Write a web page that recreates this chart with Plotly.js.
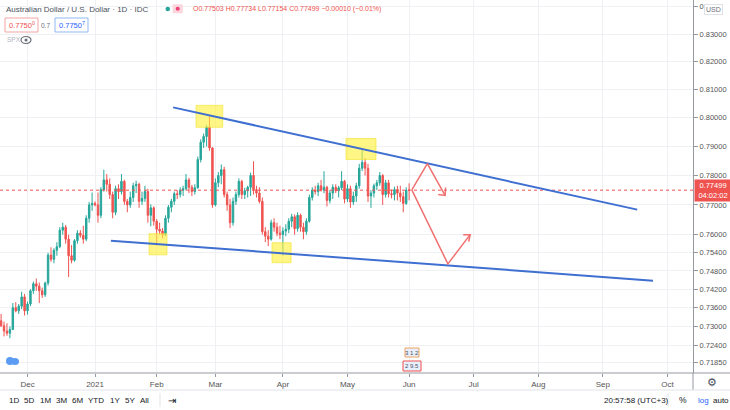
<!DOCTYPE html>
<html><head><meta charset="utf-8">
<script src="https://cdn.plot.ly/plotly-3.0.1.min.js"></script>
<style>html,body{margin:0;padding:0;background:#fff}#chart{width:730px;height:410px}</style>
</head><body><div id="chart"></div>
<script>
// ---- candle data (AUD/USD daily, IDC) ----
const dates = [
'2020-11-18','2020-11-19','2020-11-20','2020-11-23','2020-11-24','2020-11-25','2020-11-26','2020-11-27','2020-11-30',
'2020-12-01','2020-12-02','2020-12-03','2020-12-04','2020-12-07','2020-12-08','2020-12-09','2020-12-10','2020-12-11','2020-12-14','2020-12-15','2020-12-16','2020-12-17','2020-12-18','2020-12-21','2020-12-22','2020-12-23','2020-12-24','2020-12-25','2020-12-28','2020-12-29','2020-12-30','2020-12-31',
'2021-01-01','2021-01-04','2021-01-05','2021-01-06','2021-01-07','2021-01-08','2021-01-11','2021-01-12','2021-01-13','2021-01-14','2021-01-15','2021-01-18','2021-01-19','2021-01-20','2021-01-21','2021-01-22','2021-01-25','2021-01-26','2021-01-27','2021-01-28','2021-01-29',
'2021-02-01','2021-02-02','2021-02-03','2021-02-04','2021-02-05','2021-02-08','2021-02-09','2021-02-10','2021-02-11','2021-02-12','2021-02-15','2021-02-16','2021-02-17','2021-02-18','2021-02-19','2021-02-22','2021-02-23','2021-02-24','2021-02-25','2021-02-26',
'2021-03-01','2021-03-02','2021-03-03','2021-03-04','2021-03-05','2021-03-08','2021-03-09','2021-03-10','2021-03-11','2021-03-12','2021-03-15','2021-03-16','2021-03-17','2021-03-18','2021-03-19','2021-03-22','2021-03-23','2021-03-24','2021-03-25','2021-03-26','2021-03-29','2021-03-30','2021-03-31',
'2021-04-01','2021-04-02','2021-04-05','2021-04-06','2021-04-07','2021-04-08','2021-04-09','2021-04-12','2021-04-13','2021-04-14','2021-04-15','2021-04-16','2021-04-19','2021-04-20','2021-04-21','2021-04-22','2021-04-23','2021-04-26','2021-04-27','2021-04-28','2021-04-29','2021-04-30',
'2021-05-03','2021-05-04','2021-05-05','2021-05-06','2021-05-07','2021-05-10','2021-05-11','2021-05-12','2021-05-13','2021-05-14','2021-05-17','2021-05-18','2021-05-19','2021-05-20','2021-05-21','2021-05-24','2021-05-25','2021-05-26','2021-05-27','2021-05-28','2021-05-31',
'2021-06-01'];
const open = [
.7318,.7302,.7285,.7278,.7290,.7360,.7350,.7365,.7395,
.7350,.7372,.7415,.7438,.7430,.7415,.7402,.7440,.7532,.7518,.7548,.7560,.7615,.7625,.7585,.7530,.7515,.7580,.7605,.7598,.7585,.7655,.7700,
.7705,.7700,.7665,.7752,.7785,.7770,.7735,.7675,.7755,.7745,.7780,.7712,.7700,.7725,.7765,.7770,.7712,.7722,.7745,.7665,.7690,
.7645,.7618,.7612,.7600,.7655,.7692,.7712,.7738,.7735,.7750,.7755,.7785,.7760,.7745,.7758,.7855,.7915,.7935,.7968,.7895,
.7700,.7775,.7800,.7820,.7735,.7700,.7640,.7712,.7735,.7780,.7735,.7748,.7760,.7800,.7752,.7740,.7712,.7610,.7595,.7585,.7640,.7625,.7605,
.7600,.7612,.7618,.7645,.7660,.7620,.7665,.7625,.7610,.7645,.7725,.7750,.7745,.7765,.7750,.7760,.7715,.7740,.7760,.7748,.7758,.7780,
.7720,.7755,.7710,.7730,.7765,.7825,.7845,.7825,.7730,.7740,.7765,.7775,.7800,.7735,.7775,.7738,.7735,.7752,.7740,.7728,.7705,
.77503];
const high = [
.7340,.7315,.7310,.7300,.7375,.7378,.7372,.7412,.7405,
.7380,.7420,.7445,.7455,.7442,.7425,.7445,.7540,.7558,.7555,.7575,.7625,.7640,.7632,.7600,.7565,.7585,.7615,.7615,.7630,.7665,.7710,.7742,
.7712,.7742,.7760,.7820,.7805,.7790,.7745,.7765,.7770,.7805,.7785,.7720,.7745,.7775,.7782,.7775,.7745,.7765,.7755,.7702,.7695,
.7652,.7640,.7622,.7665,.7700,.7720,.7745,.7750,.7760,.7765,.7805,.7792,.7768,.7770,.7865,.7925,.7945,.7975,.8007,.7898,
.7790,.7812,.7838,.7830,.7745,.7720,.7725,.7745,.7790,.7785,.7758,.7765,.7810,.7849,.7765,.7760,.7725,.7625,.7615,.7650,.7655,.7640,.7630,
.7625,.7635,.7655,.7670,.7668,.7675,.7670,.7640,.7655,.7735,.7760,.7765,.7775,.7785,.7815,.7765,.7750,.7770,.7770,.7765,.7815,.7785,
.7770,.7765,.7745,.7775,.7840,.7891,.7860,.7840,.7750,.7772,.7785,.7812,.7805,.7785,.7785,.7752,.7762,.7765,.7765,.7745,.7760,
.77734];
const low = [
.7298,.7268,.7270,.7262,.7288,.7345,.7340,.7355,.7335,
.7338,.7365,.7405,.7415,.7375,.7392,.7395,.7432,.7510,.7505,.7530,.7555,.7600,.7570,.7460,.7505,.7510,.7570,.7590,.7570,.7578,.7640,.7680,
.7695,.7640,.7655,.7745,.7745,.7720,.7655,.7665,.7720,.7735,.7700,.7675,.7690,.7710,.7740,.7690,.7700,.7710,.7640,.7628,.7630,
.7564,.7600,.7588,.7595,.7640,.7675,.7700,.7720,.7725,.7730,.7750,.7740,.7730,.7735,.7755,.7845,.7895,.7900,.7885,.7690,
.7695,.7760,.7770,.7725,.7680,.7622,.7630,.7700,.7725,.7720,.7720,.7725,.7730,.7735,.7725,.7705,.7600,.7575,.7562,.7580,.7610,.7595,.7585,
.7531,.7595,.7605,.7625,.7600,.7610,.7610,.7585,.7600,.7640,.7715,.7735,.7730,.7745,.7740,.7695,.7705,.7720,.7740,.7725,.7750,.7705,
.7710,.7690,.7700,.7710,.7755,.7815,.7800,.7710,.7690,.7725,.7750,.7765,.7700,.7725,.7725,.7722,.7715,.7715,.7710,.7675,.7700,
.77154];
const close = [
.7302,.7285,.7278,.7290,.7360,.7350,.7365,.7395,.7350,
.7372,.7415,.7438,.7430,.7415,.7402,.7440,.7532,.7518,.7548,.7560,.7615,.7625,.7585,.7530,.7515,.7580,.7605,.7598,.7585,.7655,.7700,.7705,
.7700,.7665,.7752,.7785,.7770,.7735,.7675,.7755,.7745,.7780,.7712,.7700,.7725,.7765,.7770,.7712,.7722,.7745,.7665,.7690,.7645,
.7618,.7612,.7600,.7655,.7692,.7712,.7738,.7735,.7750,.7755,.7785,.7760,.7745,.7758,.7855,.7915,.7935,.7968,.7895,.7700,
.7775,.7800,.7820,.7735,.7700,.7640,.7712,.7735,.7780,.7735,.7748,.7760,.7800,.7752,.7740,.7712,.7610,.7595,.7585,.7640,.7625,.7605,.7600,
.7612,.7618,.7645,.7660,.7620,.7665,.7625,.7610,.7645,.7725,.7750,.7745,.7765,.7750,.7760,.7715,.7740,.7760,.7748,.7758,.7780,.7720,
.7755,.7710,.7730,.7765,.7825,.7845,.7825,.7730,.7740,.7765,.7775,.7800,.7735,.7775,.7738,.7735,.7752,.7740,.7728,.7705,.7750,
.77499];

// ---- axes ----
const monthTicks = ['2020-12-01','2021-01-01','2021-02-01','2021-03-01','2021-04-01','2021-05-03','2021-06-01','2021-07-01','2021-08-02','2021-09-01','2021-10-01'];
const monthLabels = ['Dec','2021','Feb','Mar','Apr','May','Jun','Jul','Aug','Sep','Oct'];
const priceTicks = [0.84,0.83,0.82,0.81,0.80,0.79,0.78,0.77,0.76,0.754,0.748,0.742,0.736,0.730,0.724,0.7185];
const priceTickText = ['0.','0.83000','0.82000','0.81000','0.80000','0.79000','0.78000','0.77000','0.76000','0.75400','0.74800','0.74200','0.73600','0.73000','0.72400','0.71850'];
const xRange = ['2020-11-17 15:00','2021-10-13 17:00'];
const yRange = [0.7152, 0.8425];
const lastPrice = 0.77499;

// ---- drawings (trend lines, zones, arrows) ----
const upperLineX = ['2021-02-08 14:00','2021-09-16 17:00'];
const upperLineY = [0.8037, 0.7684];
const lowerLineX = ['2021-01-08 10:00','2021-09-24 02:00'];
const lowerLineY = [0.7580, 0.7448];
const boxStart = ['2021-02-18 10:00','2021-04-30 12:00','2021-01-27 10:00','2021-03-26 07:00'];
const boxEnd   = ['2021-03-03 12:00','2021-05-14 17:00','2021-02-04 12:00','2021-04-05 19:00'];
const boxTop   = [0.8044, 0.7928, 0.7603, 0.7573];
const boxBottom= [0.7967, 0.7855, 0.7533, 0.7507];
const arrowUpX = ['2021-06-01 22:00','2021-06-09 05:00','2021-06-17 06:00'];
const arrowUpY = [0.7751, 0.7841, 0.7732];
const arrowUpHeadX = ['2021-06-14 22:00','2021-06-17 06:00','2021-06-17 10:00'];
const arrowUpHeadY = [0.7735, 0.7732, 0.7759];
const arrowDownX = ['2021-06-01 22:00','2021-06-18 05:00','2021-06-29 19:00'];
const arrowDownY = [0.7751, 0.7503, 0.7600];
const arrowDownHeadX = ['2021-06-25 10:00','2021-06-29 19:00','2021-06-29 07:00'];
const arrowDownHeadY = [0.7600, 0.7600, 0.7577];

// ---- traces ----
const traces = [];
traces.push({
  type:'candlestick', x:dates, open:open, high:high, low:low, close:close,
  increasing:{line:{color:'#26a69a',width:1}, fillcolor:'#26a69a'},
  decreasing:{line:{color:'#ef5350',width:1}, fillcolor:'#ef5350'},
  whiskerwidth:0, hoverinfo:'skip', showlegend:false
});
traces.push({type:'scatter', mode:'lines', x:xRange, y:[lastPrice,lastPrice],
  line:{color:'#ef5350', width:1, dash:'dot'}, hoverinfo:'skip'});
for (let i=0;i<boxStart.length;i++){
  traces.push({type:'scatter', mode:'lines', fill:'toself',
    x:[boxStart[i],boxEnd[i],boxEnd[i],boxStart[i],boxStart[i]],
    y:[boxTop[i],boxTop[i],boxBottom[i],boxBottom[i],boxTop[i]],
    fillcolor:'rgba(255,241,60,0.62)', line:{color:'rgba(245,230,60,0.7)',width:1}, hoverinfo:'skip'});
}
traces.push({type:'scatter', mode:'lines', x:upperLineX, y:upperLineY, line:{color:'#3f6fd0',width:2}, hoverinfo:'skip'});
traces.push({type:'scatter', mode:'lines', x:lowerLineX, y:lowerLineY, line:{color:'#3f6fd0',width:2}, hoverinfo:'skip'});
traces.push({type:'scatter', mode:'lines', x:arrowUpX, y:arrowUpY, line:{color:'#f07070',width:1.5}, hoverinfo:'skip'});
traces.push({type:'scatter', mode:'lines', x:arrowUpHeadX, y:arrowUpHeadY, line:{color:'#f07070',width:1.5}, hoverinfo:'skip'});
traces.push({type:'scatter', mode:'lines', x:arrowDownX, y:arrowDownY, line:{color:'#f07070',width:1.5}, hoverinfo:'skip'});
traces.push({type:'scatter', mode:'lines', x:arrowDownHeadX, y:arrowDownHeadY, line:{color:'#f07070',width:1.5}, hoverinfo:'skip'});

// ---- layout helpers (pixel -> paper) ----
const PW = 693, PH = 373;
const px = x => x/PW;
const py = y => 1 - y/PH;
const FONT = 'Liberation Sans, Arial, sans-serif';

const annotations = [];
function txt(x,y,text,size,color,anchor,extra){
  annotations.push(Object.assign({xref:'paper',yref:'paper',x:px(x),y:py(y),text:text,showarrow:false,
    xanchor:anchor||'left',yanchor:'middle',font:{family:FONT,size:size,color:color}},extra||{}));
}
txt(4,9,'Australian Dollar / U.S. Dollar · 1D · IDC',8,'#4c525e');
txt(191,9,'O0.77503 H0.77734 L0.77154 C0.77499 −0.00010 (−0.01%)',7,'#ef5350');
txt(21.5,25,'0.7750<sup>0</sup>',7.5,'#ef5350','center');
txt(45.5,25,'0.7',6.5,'#6a6d78','center');
txt(71.5,25,'0.7750<sup>7</sup>',7.5,'#2962ff','center');
txt(5,40,'SPX',6.5,'#b2b5be');
// price axis label
annotations.push({xref:'paper',yref:'y',x:1,y:Math.log10(lastPrice),xanchor:'left',yanchor:'middle',xshift:1,
  text:'0.77499<br>04:02:02',showarrow:false,bgcolor:'#ef5350',width:34,height:19,align:'center',
  font:{family:FONT,size:7.5,color:'#ffffff'}});
// USD badge
annotations.push({xref:'paper',yref:'paper',x:px(713.5),y:py(9),text:'USD',showarrow:false,xanchor:'center',yanchor:'middle',
  bgcolor:'#ffffff',bordercolor:'#dfe1e6',borderwidth:1,borderpad:1,font:{family:FONT,size:7,color:'#6a6d78'}});
// bottom toolbar
const toolLabels = ['1D','5D','1M','3M','6M','YTD','1Y','5Y','All'];
const toolX = [7,22,38,54,70,86,108,123,138];
toolLabels.forEach((t,i)=>txt(toolX[i],400,t,8,'#131722'));
txt(172,400,'⇥',10,'#131722','center');
txt(602,400,'20:57:58 (UTC+3)',8,'#131722');
txt(683,400,'%',8.5,'#131722','center');
txt(703,400,'log',8,'#2962ff','center');
txt(721,400,'auto',8,'#131722','center');
txt(712,382,'⚙',11,'#4c525e','center');

const shapes = [
  // header icons
  {type:'circle',xref:'paper',yref:'paper',x0:px(165.5),x1:px(170),y0:py(11.3),y1:py(6.8),fillcolor:'#26a69a',line:{width:0}},
  {type:'rect',xref:'paper',yref:'paper',x0:px(172.7),x1:px(182.7),y0:py(13.3),y1:py(4.3),fillcolor:'#fbd5dc',line:{width:0}},
  {type:'circle',xref:'paper',yref:'paper',x0:px(175.7),x1:px(179.7),y0:py(10.8),y1:py(6.8),fillcolor:'#ec407a',line:{width:0}},
  {type:'rect',xref:'paper',yref:'paper',x0:px(5),x1:px(38),y0:py(32),y1:py(18),fillcolor:'#fff',line:{color:'#f5a3a3',width:1}},
  {type:'rect',xref:'paper',yref:'paper',x0:px(55),x1:px(88),y0:py(32),y1:py(18),fillcolor:'#fff',line:{color:'#90b8f5',width:1}},
  {type:'circle',xref:'paper',yref:'paper',x0:px(21),x1:px(31),y0:py(43.5),y1:py(36.5),fillcolor:'rgba(0,0,0,0)',line:{color:'#6a6d78',width:1.2}},
  {type:'circle',xref:'paper',yref:'paper',x0:px(24.5),x1:px(27.5),y0:py(41.5),y1:py(38.5),fillcolor:'#6a6d78',line:{width:0}},
  // TradingView logo
  {type:'circle',xref:'paper',yref:'paper',x0:px(6),x1:px(14),y0:py(365),y1:py(357),fillcolor:'#5b9cf2',line:{width:0}},
  {type:'circle',xref:'paper',yref:'paper',x0:px(11),x1:px(19),y0:py(365),y1:py(358),fillcolor:'#5b9cf2',line:{width:0}},
  // event badges near Jun
  {type:'rect',xref:'paper',yref:'paper',x0:px(405),x1:px(419),y0:py(357),y1:py(348),fillcolor:'#e8eefc',line:{color:'#f0a35e',width:1}},
  {type:'rect',xref:'paper',yref:'paper',x0:px(403),x1:px(421),y0:py(371),y1:py(361),fillcolor:'#e8eefc',line:{color:'#ef5350',width:1}},
  // frame lines outside plot
  {type:'line',xref:'paper',yref:'paper',x0:0,x1:px(730),y0:py(373),y1:py(373),line:{color:'#9598a1',width:1}},
  {type:'line',xref:'paper',yref:'paper',x0:px(693),x1:px(693),y0:py(373),y1:py(390),line:{color:'#9598a1',width:1}},
  {type:'line',xref:'paper',yref:'paper',x0:0,x1:px(730),y0:py(390),y1:py(390),line:{color:'#e0e3eb',width:1}},
  {type:'line',xref:'paper',yref:'paper',x0:px(160),x1:px(160),y0:py(393),y1:py(407),line:{color:'#e0e3eb',width:1}},
  {type:'line',xref:'paper',yref:'paper',x0:px(668),x1:px(668),y0:py(393),y1:py(407),line:{color:'#e0e3eb',width:1}}
];
// badge texts
txt(412,352.5,'3 1 2',6,'#4c525e','center');
txt(412,366,'2 9.5',6,'#4c525e','center');

const layout = {
  width:730, height:410, margin:{l:0,r:37,t:0,b:37},
  paper_bgcolor:'#ffffff', plot_bgcolor:'#ffffff', showlegend:false,
  font:{family:FONT,size:9,color:'#555'},
  xaxis:{type:'date', range:xRange, rangebreaks:[{bounds:['sat','mon']}], rangeslider:{visible:false},
    tickmode:'array', tickvals:monthTicks, ticktext:monthLabels, showgrid:true, gridcolor:'#eef0f4',
    showline:false, ticks:'outside', ticklen:3, tickcolor:'#9598a1', tickfont:{family:FONT,size:8,color:'#555'},
    zeroline:false, fixedrange:true},
  yaxis:{type:'log', side:'right', range:[Math.log10(yRange[0]),Math.log10(yRange[1])],
    tickmode:'array', tickvals:priceTicks, ticktext:priceTickText,
    showgrid:true, gridcolor:'#eef0f4', showline:true, linecolor:'#9598a1', linewidth:1,
    ticks:'outside', ticklen:4, tickcolor:'#9598a1', tickfont:{family:FONT,size:7.5,color:'#555'},
    zeroline:false, fixedrange:true},
  shapes:shapes, annotations:annotations
};
Plotly.newPlot('chart', traces, layout, {displayModeBar:false, staticPlot:true});
</script>
</body></html>
